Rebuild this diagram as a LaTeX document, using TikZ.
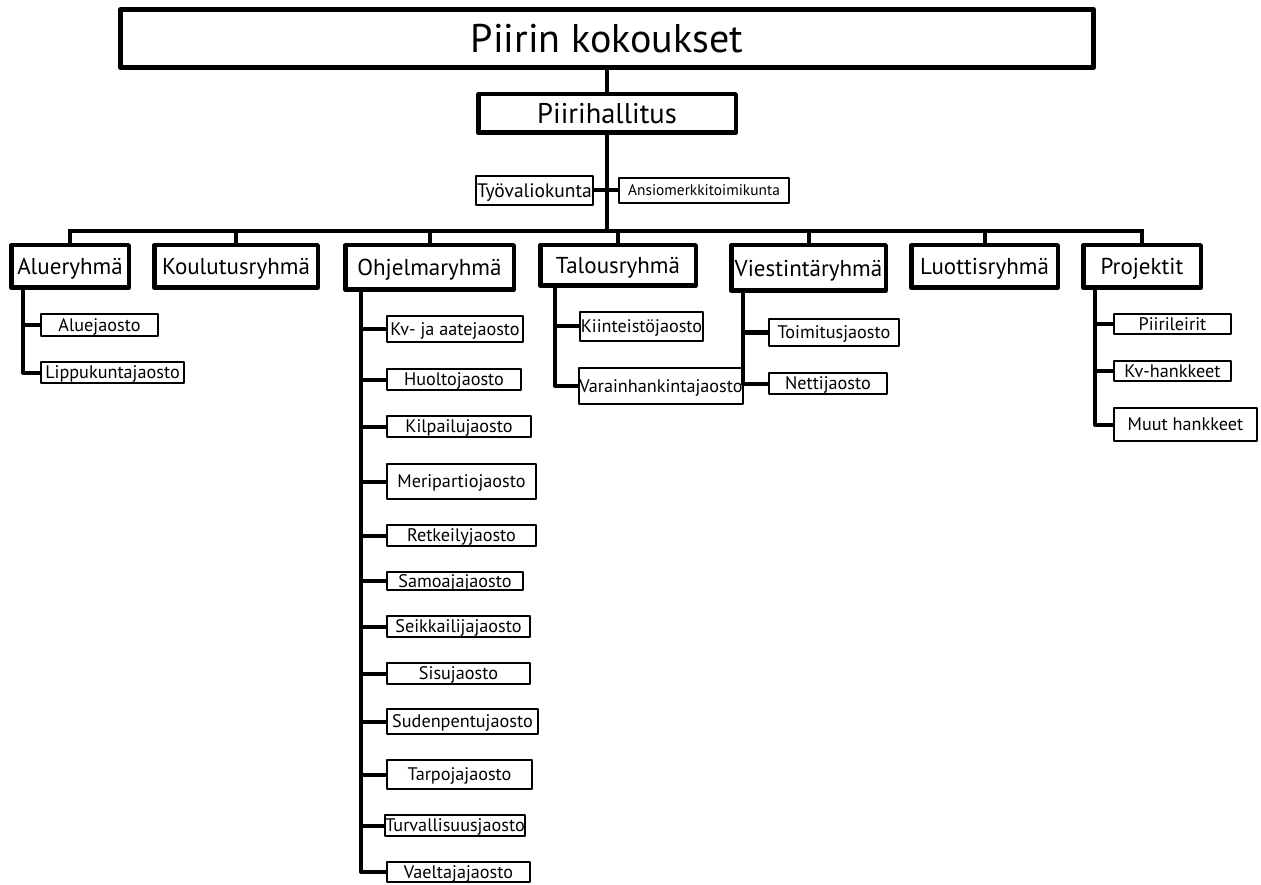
\documentclass[tikz,border=0pt]{standalone}
\usepackage{fontspec}
\setmainfont{PT Sans}
\begin{document}
\begin{tikzpicture}[x=1pt,y=-1pt,
  topbox/.style={draw, line width=5pt, line join=round, inner sep=0pt, text height=28pt, text depth=0pt, font=\fontsize{40}{40}\selectfont},
  phbox/.style={draw, line width=4.5pt, line join=round, inner sep=0pt, text height=20pt, text depth=0pt, font=\fontsize{28.5}{28.5}\selectfont},
  midbox/.style={draw, line width=4.5pt, line join=round, inner sep=0pt, text height=16.1pt, text depth=0pt, font=\fontsize{23}{23}\selectfont},
  subbox/.style={draw, line width=2pt, line join=round, inner sep=0pt, text height=12.7pt, text depth=0pt, font=\fontsize{18.2}{18.2}\selectfont},
  tyobox/.style={subbox, text height=13.7pt, font=\fontsize{19.5}{19.5}\selectfont},
  smallbox/.style={subbox, text height=10.8pt, font=\fontsize{15.4}{15.4}\selectfont},
  conn/.style={line width=4pt}]
\useasboundingbox (0,0) rectangle (1261,885);
\fill[white] (0,0) rectangle (1261,885);

% top levels
\node[topbox, minimum width=973pt, minimum height=58pt] (top) at (607,38.5) {Piirin kokoukset};
\node[phbox, minimum width=257.5pt, minimum height=38.5pt] (ph) at (607,113.5) {Piirihallitus};
\node[tyobox, minimum width=117pt, minimum height=29pt] (tyo) at (534.5,190.5) {Työvaliokunta};
\node[smallbox, minimum width=170pt, minimum height=25pt] (ansio) at (704,190.5) {Ansiomerkkitoimikunta};

% level 2
\node[midbox, minimum width=117.5pt, minimum height=42.5pt] (alue) at (70,266.5) {Alueryhmä};
\node[midbox, minimum width=163.5pt, minimum height=42.5pt] (koul) at (236,266.5) {Koulutusryhmä};
\node[midbox, minimum width=168.5pt, minimum height=44.5pt] (ohj) at (429.5,267.5) {Ohjelmaryhmä};
\node[midbox, minimum width=155.5pt, minimum height=40.5pt] (tal) at (618,265.5) {Talousryhmä};
\node[midbox, minimum width=154.5pt, minimum height=45.5pt] (vies) at (808.5,268) {Viestintäryhmä};
\node[midbox, minimum width=146.5pt, minimum height=42.5pt] (luot) at (984.5,266.5) {Luottisryhmä};
\node[midbox, minimum width=117.5pt, minimum height=42.5pt] (proj) at (1142,266.5) {Projektit};

% bus
\coordinate (busL) at (70,231);
\coordinate (busR) at (1142,231);
\draw[conn] (top.south) -- (ph.north);
\draw[conn] (ph.south) -- (ph.south |- busL);
\draw[conn] (tyo.east) -- (ansio.west);
\draw[conn, line cap=rect] (busL) -- (busR);
\foreach \n in {alue,koul,ohj,tal,vies,luot,proj}
  \draw[conn] (\n.north) -- (\n.north |- busL);

% Alueryhmä
\node[subbox, minimum width=117pt, minimum height=22pt] (aluej) at (99.5,325) {Aluejaosto};
\node[subbox, minimum width=143pt, minimum height=21pt] (lipp) at (112.5,372.5) {Lippukuntajaosto};
\coordinate (aluev) at (23,289);
\draw[conn, line join=round] (aluev) |- (lipp.west);
\draw[conn] (aluej.west) -- (aluej.west -| aluev);

% Talousryhmä
\node[subbox, minimum width=123pt, minimum height=29pt] (kiin) at (641.5,326.5) {Kiinteistöjaosto};
\node[subbox, minimum width=162pt, minimum height=36pt] (vara) at (661,386) {Varainhankintajaosto};
\coordinate (talv) at (555,287);
\draw[conn, line join=round] (talv) |- (vara.west);
\draw[conn] (kiin.west) -- (kiin.west -| talv);

% Viestintäryhmä
\node[subbox, minimum width=130pt, minimum height=27pt] (toim) at (834,332.5) {Toimitusjaosto};
\node[subbox, minimum width=118pt, minimum height=21pt] (nett) at (828,383.5) {Nettijaosto};
\coordinate (viev) at (743,292);
\draw[conn, line join=round] (viev) |- (nett.west);
\draw[conn] (toim.west) -- (toim.west -| viev);

% Ohjelmaryhmä
\node[subbox, minimum width=136pt, minimum height=26pt] (kv) at (455,329) {Kv- ja aatejaosto};
\node[subbox, minimum width=134pt, minimum height=21pt] (huol) at (454,379.5) {Huoltojaosto};
\node[subbox, minimum width=144pt, minimum height=21pt] (kilp) at (459,426.5) {Kilpailujaosto};
\node[subbox, minimum width=149pt, minimum height=35pt] (meri) at (461.5,481.5) {Meripartiojaosto};
\node[subbox, minimum width=149pt, minimum height=21pt] (retk) at (461.5,535.5) {Retkeilyjaosto};
\node[subbox, minimum width=136pt, minimum height=18pt] (samo) at (455,581) {Samoajajaosto};
\node[subbox, minimum width=143pt, minimum height=21pt] (seik) at (458.5,626.5) {Seikkailijajaosto};
\node[subbox, minimum width=143pt, minimum height=21pt] (sisu) at (458.5,673.5) {Sisujaosto};
\node[subbox, minimum width=151pt, minimum height=25pt] (sude) at (462.5,721.5) {Sudenpentujaosto};
\node[subbox, minimum width=145pt, minimum height=29pt] (tarp) at (459.5,774.5) {Tarpojajaosto};
\node[subbox, minimum width=136pt, minimum height=21pt] (turv) at (455,825.5) {Turvallisuusjaosto};
\node[subbox, minimum width=143pt, minimum height=20pt] (vael) at (458.5,872) {Vaeltajajaosto};
\coordinate (ohjv) at (361,291);
\draw[conn, line join=round] (ohjv) |- (vael.west);
\foreach \n in {kv,huol,kilp,meri,retk,samo,seik,sisu,sude,tarp,turv}
  \draw[conn] (\n.west) -- (\n.west -| ohjv);

% Projektit
\node[subbox, minimum width=117pt, minimum height=20pt] (piir) at (1172.5,324) {Piirileirit};
\node[subbox, minimum width=117pt, minimum height=20pt] (kvh) at (1172.5,371) {Kv-hankkeet};
\node[subbox, minimum width=143pt, minimum height=33pt] (muut) at (1185.5,424.5) {Muut hankkeet};
\coordinate (projv) at (1095,289);
\draw[conn, line join=round] (projv) |- (muut.west);
\foreach \n in {piir,kvh}
  \draw[conn] (\n.west) -- (\n.west -| projv);
\end{tikzpicture}
\end{document}
